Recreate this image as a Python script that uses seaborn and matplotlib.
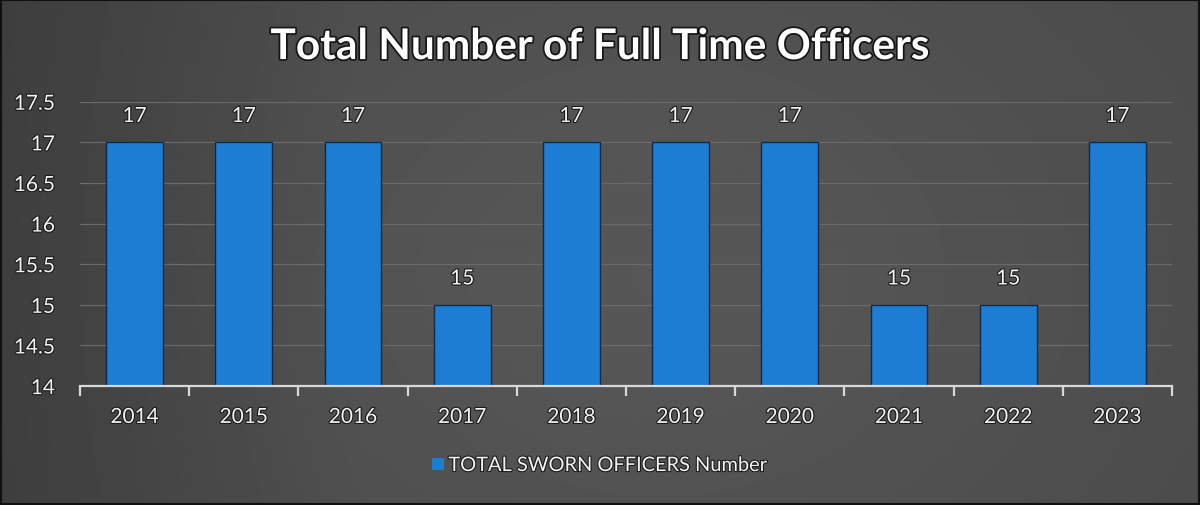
import numpy as np
import matplotlib
matplotlib.use("Agg")
import matplotlib.pyplot as plt
import matplotlib.patheffects as pe
from matplotlib.patches import Patch, Rectangle
import seaborn as sns
import pandas as pd

years = ["2014", "2015", "2016", "2017", "2018", "2019", "2020", "2021", "2022", "2023"]
officers = [17, 17, 17, 15, 17, 17, 17, 15, 15, 17]
series_name = "TOTAL SWORN OFFICERS Number"
title = "Total Number of Full Time Officers"
y_ticks = [14, 14.5, 15, 15.5, 16, 16.5, 17, 17.5]
y_tick_labels = ["14", "14.5", "15", "15.5", "16", "16.5", "17", "17.5"]

df = pd.DataFrame({"Year": years, series_name: officers})

sns.set_theme(style="white")
plt.rcParams["font.family"] = ["Lato", "DejaVu Sans"]

BAR = "#1d7dd3"
TXT = "#f4f4f4"
shadow = [pe.withStroke(linewidth=1.6, foreground="#1a1a1a")]

fig = plt.figure(figsize=(12, 5.06), dpi=100)

# dark slide background, slightly lighter toward the middle
bg = fig.add_axes([0, 0, 1, 1], zorder=-5)
xx, yy = np.meshgrid(np.linspace(0, 1, 400), np.linspace(0, 1, 200))
shade = 0.29 + 0.05 * np.exp(-((xx - 0.55) ** 2) / 0.15 - ((yy - 0.55) ** 2) / 0.5)
shade -= 0.05 * np.clip(0.3 - xx, 0, None) / 0.3
bg.imshow(shade, cmap="gray", vmin=0, vmax=1, aspect="auto", extent=[0, 1, 0, 1])
bg.set_axis_off()
bg.add_patch(Rectangle((0, 0), 1, 1, transform=bg.transAxes, fill=False,
                       edgecolor="#111111", linewidth=3))

ax = fig.add_axes([0.0667, 0.235, 0.91, 0.562])
ax.set_facecolor("none")
sns.barplot(data=df, x="Year", y=series_name, color=BAR, width=0.52,
            saturation=1, edgecolor="#0d2a48", linewidth=1.0, ax=ax, zorder=3)

ax.set_ylim(14, 17.5)
ax.set_xlim(-0.5, len(years) - 0.5)
ax.set_yticks(y_ticks)
ax.set_yticklabels(y_tick_labels)
ax.grid(axis="y", color="#6a6a6a", linewidth=0.9, zorder=0)
ax.grid(axis="x", visible=False)
for s in ["top", "right", "left"]:
    ax.spines[s].set_visible(False)
ax.spines["bottom"].set_color("#d8d8d8")
ax.spines["bottom"].set_linewidth(1.6)
ax.spines["bottom"].set_zorder(4)

ax.set_xlabel("")
ax.set_ylabel("")
ax.tick_params(axis="y", length=0, pad=18, labelsize=15, labelcolor=TXT)
ax.tick_params(axis="x", which="major", length=0, pad=15, labelsize=15, labelcolor=TXT)
ax.set_xticks(np.arange(-0.5, len(years)), minor=True)
ax.tick_params(axis="x", which="minor", bottom=True, length=7, width=1.6,
               color="#d8d8d8", direction="out")
for lbl in ax.get_xticklabels() + ax.get_yticklabels():
    lbl.set_path_effects(shadow)

for i, v in enumerate(officers):
    ax.annotate(f"{v:g}", xy=(i, v), xytext=(0, 19), textcoords="offset points",
                ha="center", va="center", fontsize=15, color=TXT,
                path_effects=shadow)

fig.text(0.5, 0.905, title, ha="center", va="center", fontsize=30.5,
         fontweight="bold", color="white",
         path_effects=[pe.withStroke(linewidth=2.5, foreground="#151515")])

handle = Patch(facecolor=BAR, edgecolor="none")
leg = fig.legend([handle], [series_name], loc="center", bbox_to_anchor=(0.5, 0.078),
                 frameon=False, fontsize=14.4, handlelength=0.6, handleheight=0.6,
                 handletextpad=0.2, labelcolor=TXT)
for t in leg.get_texts():
    t.set_path_effects(shadow)

fig.savefig("out.png", dpi=100)
